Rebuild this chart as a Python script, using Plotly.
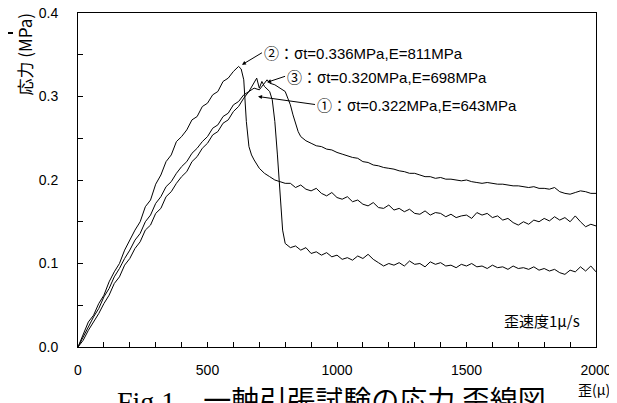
import plotly.graph_objects as go

# ---- data (strain in μ, stress in MPa) ----
x_c2 = [0,20,40,60,80,100,120,140,160,180,200,220,240,260,280,300,320,340,360,380,400,420,440,460,480,500,
        520,540,560,580,600,620,630,640,650,660,670,680,700,720,740,760,780,800,
        820,840,860,880,900,920,940,960,980,1000,1020,1040,1060,1080,1100,1120,1140,1160,1180,1200,
        1220,1240,1260,1280,1300,1320,1340,1360,1380,1400,1420,1440,1460,1480,1500,1520,1540,1560,1580,1600,
        1620,1640,1660,1680,1700,1720,1740,1760,1780,1800,1820,1840,1860,1880,1900,1920,1940,1960,1980,2000]
y_c2 = [0.000,0.014,0.030,0.038,0.052,0.062,0.078,0.090,0.100,0.116,0.128,0.140,0.150,0.168,0.176,0.195,0.206,0.222,0.230,0.246,0.252,0.260,0.272,0.276,0.288,0.292,
        0.302,0.306,0.318,0.322,0.330,0.336,0.333,0.320,0.270,0.240,0.230,0.224,0.214,0.208,0.204,0.200,0.198,0.196,
        0.196,0.191,0.194,0.189,0.187,0.190,0.184,0.181,0.185,0.179,0.177,0.180,0.174,0.176,0.171,0.169,0.173,0.167,0.166,0.170,
        0.164,0.166,0.162,0.165,0.160,0.159,0.163,0.158,0.161,0.160,0.156,0.159,0.155,0.157,0.158,0.154,0.161,0.158,0.160,0.155,
        0.157,0.152,0.154,0.149,0.146,0.150,0.147,0.152,0.150,0.154,0.151,0.156,0.152,0.155,0.150,0.157,0.150,0.144,0.147,0.145]

x_c1 = [0,20,40,60,80,100,120,140,160,180,200,220,240,260,280,300,320,340,360,380,400,420,440,460,480,500,
        520,540,560,580,600,620,640,660,680,690,700,710,720,740,750,760,770,780,790,800,
        820,840,860,880,900,920,940,960,980,1000,1020,1040,1060,1080,1100,1120,1140,1160,1180,1200,
        1220,1240,1260,1280,1300,1320,1340,1360,1380,1400,1420,1440,1460,1480,1500,1520,1540,1560,1580,1600,
        1620,1640,1660,1680,1700,1720,1740,1760,1780,1800,1820,1840,1860,1880,1900,1920,1940,1960,1980,2000]
y_c1 = [0.000,0.008,0.020,0.030,0.040,0.052,0.062,0.076,0.084,0.098,0.106,0.118,0.126,0.140,0.146,0.160,0.166,0.180,0.186,0.196,0.204,0.210,0.222,0.228,0.238,0.244,
        0.254,0.258,0.268,0.272,0.282,0.288,0.298,0.306,0.316,0.322,0.310,0.318,0.312,0.306,0.296,0.270,0.230,0.180,0.140,0.124,
        0.119,0.121,0.116,0.119,0.112,0.114,0.110,0.113,0.108,0.110,0.105,0.107,0.104,0.109,0.106,0.111,0.105,0.101,0.097,0.100,
        0.098,0.101,0.097,0.103,0.099,0.100,0.096,0.102,0.099,0.101,0.097,0.098,0.095,0.099,0.097,0.100,0.096,0.097,0.094,0.098,
        0.095,0.096,0.093,0.097,0.094,0.095,0.093,0.096,0.092,0.094,0.091,0.093,0.089,0.087,0.092,0.090,0.096,0.091,0.097,0.090]

x_c3 = [0,20,40,60,80,100,120,140,160,180,200,220,240,260,280,300,320,340,360,380,400,420,440,460,480,500,
        520,540,560,580,600,620,640,660,680,700,720,730,740,760,780,800,810,820,830,840,850,860,880,
        900,920,940,960,980,1000,1020,1040,1060,1080,1100,1120,1140,1160,1180,1200,
        1220,1240,1260,1280,1300,1320,1340,1360,1380,1400,1420,1440,1460,1480,1500,1520,1540,1560,1580,1600,
        1620,1640,1660,1680,1700,1720,1740,1760,1780,1800,1820,1840,1860,1880,1900,1920,1940,1960,1980,2000]
y_c3 = [0.000,0.012,0.024,0.036,0.046,0.060,0.070,0.084,0.094,0.106,0.116,0.128,0.136,0.150,0.158,0.172,0.180,0.192,0.198,0.208,0.216,0.222,0.232,0.238,0.246,0.252,
        0.262,0.266,0.276,0.280,0.290,0.294,0.302,0.306,0.310,0.308,0.316,0.320,0.316,0.314,0.310,0.306,0.298,0.290,0.278,0.268,0.258,0.252,0.247,
        0.244,0.241,0.240,0.237,0.236,0.233,0.231,0.229,0.227,0.226,0.222,0.221,0.218,0.217,0.215,0.214,
        0.213,0.211,0.210,0.208,0.208,0.206,0.204,0.204,0.202,0.203,0.201,0.201,0.200,0.199,0.200,0.198,0.197,0.196,0.197,0.196,
        0.195,0.195,0.194,0.193,0.193,0.192,0.191,0.192,0.190,0.190,0.189,0.191,0.186,0.184,0.183,0.185,0.187,0.186,0.184,0.184]

x_ticks = [0, 500, 1000, 1500, 2000]
y_ticks = [0.0, 0.1, 0.2, 0.3, 0.4]

SIG = "<span style='font-family:Noto Sans CJK JP'>σ</span>"
label_2 = "②：" + SIG + "t=0.336MPa,E=811MPa"
label_3 = "③：" + SIG + "t=0.320MPa,E=698MPa"
label_1 = "①：" + SIG + "t=0.322MPa,E=643MPa"

FONT = "Liberation Sans, Arial, Noto Sans CJK JP"
CJK = "Noto Sans CJK JP, Liberation Sans"

fig = go.Figure()
for xs, ys in [(x_c2, y_c2), (x_c1, y_c1), (x_c3, y_c3)]:
    fig.add_trace(go.Scatter(x=xs, y=ys, mode="lines",
                             line=dict(color="black", width=1), showlegend=False, hoverinfo="skip"))

# the page body has an 8px margin, so the figure is made 8px smaller and
# positions below are given in window pixels (OFF subtracted)
OFF = 8
W, H = 617 - OFF, 403 - OFF
L, T = 78 - OFF, 13 - OFF
R = W - (596 - OFF)
B = H - (347 - OFF)
PW, PH = W - L - R, H - T - B

def px(xw):
    return (xw - OFF - L) / PW

def py(yw):
    return (H - B - (yw - OFF)) / PH

axis_common = dict(showline=True, mirror=True, linecolor="black", linewidth=1, automargin=False,
                   ticklabeloverflow="allow",
                   ticks="inside", ticklen=5, tickcolor="black", showgrid=False, zeroline=False,
                   tickfont=dict(family=FONT, size=14, color="black"))

fig.update_xaxes(range=[0, 2000], tickvals=x_ticks, ticklabelstandoff=10,
                 minor=dict(dtick=100, ticks="inside", ticklen=5, tickcolor="black", showgrid=False),
                 **axis_common)
fig.update_yaxes(range=[0, 0.4], tickvals=y_ticks, tickformat=".1f", ticklabelstandoff=16,
                 minor=dict(dtick=0.05, ticks="inside", ticklen=5, tickcolor="black", showgrid=False),
                 **axis_common)

AF = dict(family=FONT, size=15, color="black")
ann = []
ann.append(dict(x=633, y=0.338, xref="x", yref="y", text=label_2, showarrow=True,
                ax=20, ay=-12, xanchor="left", yanchor="middle",
                arrowhead=2, arrowsize=0.8, arrowwidth=1, arrowcolor="black", font=AF))
ann.append(dict(x=730, y=0.317, xref="x", yref="y", text=label_3, showarrow=True,
                ax=18, ay=-6, xanchor="left", yanchor="middle",
                arrowhead=2, arrowsize=0.8, arrowwidth=1, arrowcolor="black", font=AF))
ann.append(dict(x=695, y=0.300, xref="x", yref="y", text=label_1, showarrow=True,
                ax=57, ay=8, xanchor="left", yanchor="middle",
                arrowhead=2, arrowsize=0.8, arrowwidth=1, arrowcolor="black", font=AF))
ann.append(dict(x=px(582), y=py(320), xref="paper", yref="paper", text="歪速度1μ/s",
                showarrow=False, xanchor="right", yanchor="middle",
                font=dict(family=CJK, size=15, color="black")))
ann.append(dict(x=px(23.5), y=py(54), xref="paper", yref="paper", text="応力 (MPa)",
                showarrow=False, textangle=-90, xanchor="center", yanchor="middle",
                font=dict(family=CJK, size=17, color="black")))
ann.append(dict(x=px(594), y=py(389), xref="paper", yref="paper", text="歪(μ)",
                showarrow=False, xanchor="center", yanchor="middle",
                font=dict(family=CJK, size=14, color="black")))
ann.append(dict(x=px(548), y=py(399), xref="paper", yref="paper",
                text="<span style='font-family:Liberation Serif'>Fig.1</span>　一軸引張試験の応力 歪線図",
                showarrow=False, xanchor="right", yanchor="middle",
                font=dict(family=CJK, size=28, color="black")))

fig.update_layout(template="none", width=W, height=H, margin=dict(l=L, r=R, t=T, b=B),
                  paper_bgcolor="white", plot_bgcolor="white", annotations=ann,
                  shapes=[dict(type="line", xref="paper", yref="paper", layer="above",
                               x0=px(OFF), x1=px(13), y0=py(33), y1=py(33),
                               line=dict(color="black", width=2))])

fig.write_html("out.html")
